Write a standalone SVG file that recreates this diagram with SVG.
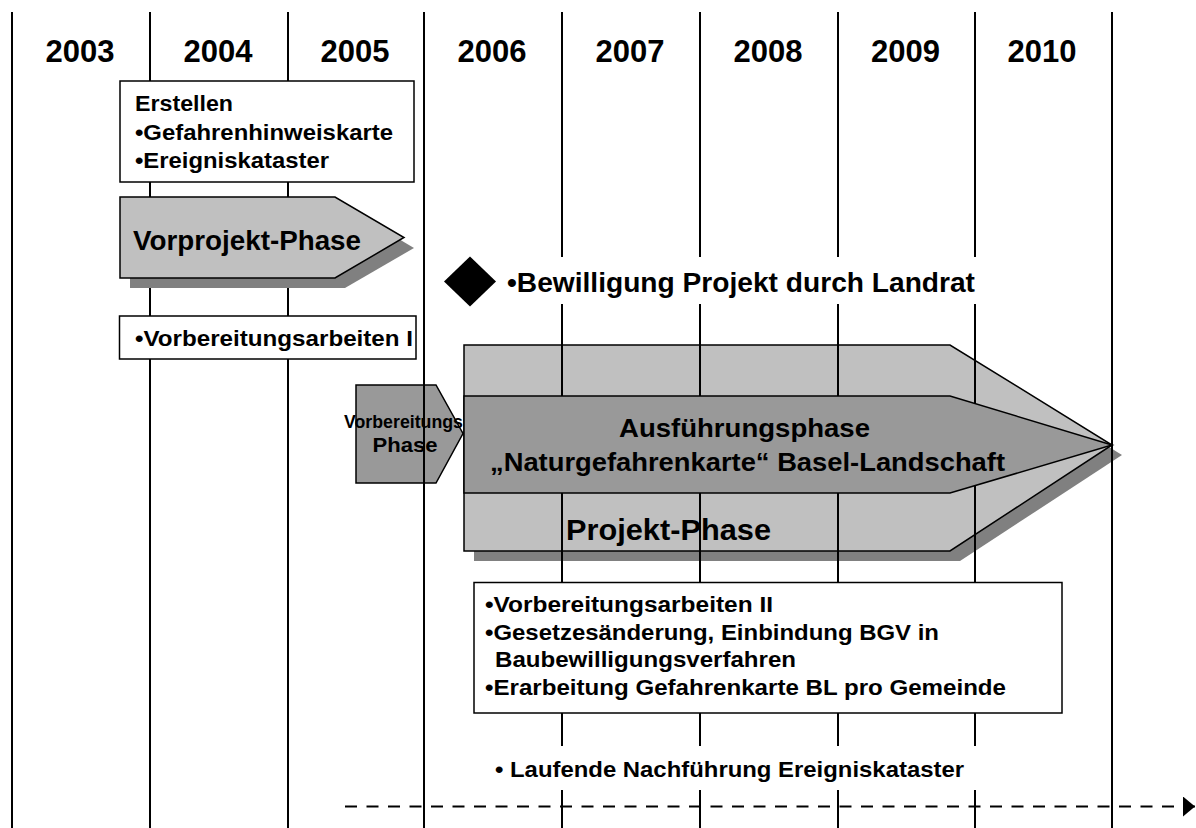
<svg xmlns="http://www.w3.org/2000/svg" width="1196" height="828" viewBox="0 0 1196 828">
<style>
text{font-family:"Liberation Sans",Arial,Helvetica,sans-serif;font-weight:bold;fill:#000}
.yr{font-size:31px;text-anchor:middle}
.t21{font-size:22.5px}
.mid{text-anchor:middle}
.grid line{stroke:#000;stroke-width:2}
.box{fill:#fff;stroke:#000;stroke-width:1.5}
.light{fill:#c0c0c0;stroke:#000;stroke-width:1.5;stroke-linejoin:miter}
.dark{fill:#999999;stroke:#000;stroke-width:1.5}
.shadow{fill:#808080}
.dash{stroke:#000;stroke-width:2;stroke-dasharray:12 9.5;fill:none}
</style>
<defs>
<marker id="ah" markerUnits="userSpaceOnUse" markerWidth="12" markerHeight="20" viewBox="0 0 12 20" refX="12" refY="10" orient="auto">
<path d="M0,0 L12,10 L0,20 z" fill="#000"/>
</marker>
</defs>
<rect width="1196" height="828" fill="#fff"/>

<g id="projekt-phase">
<polygon class="shadow" points="474,355 960,355 1122,455 960,561 474,561"/>
<polygon class="light" points="464,345 950,345 1112,445 950,551 464,551"/>
<text x="566" y="540" style="font-size:30px" textLength="205" lengthAdjust="spacingAndGlyphs">Projekt-Phase</text>
</g>

<g id="vorbereitungs-phase">
<polygon class="dark" points="356,385 436,385 463,433.5 436,483 356,483"/>
<text class="mid" x="403.5" y="427.5" style="font-size:17.5px" textLength="119" lengthAdjust="spacingAndGlyphs">Vorbereitungs</text>
<text class="mid" x="405" y="451.5" style="font-size:21px" textLength="65" lengthAdjust="spacingAndGlyphs">Phase</text>
</g>

<g id="grid" class="grid">
<line x1="12" y1="12" x2="12" y2="828"/>
<line x1="150" y1="12" x2="150" y2="828"/>
<line x1="288" y1="12" x2="288" y2="828"/>
<line x1="424" y1="12" x2="424" y2="828"/>
<line x1="562" y1="12" x2="562" y2="257"/>
<line x1="562" y1="304" x2="562" y2="746"/>
<line x1="562" y1="790" x2="562" y2="828"/>
<line x1="700" y1="12" x2="700" y2="257"/>
<line x1="700" y1="304" x2="700" y2="746"/>
<line x1="700" y1="790" x2="700" y2="828"/>
<line x1="838" y1="12" x2="838" y2="257"/>
<line x1="838" y1="304" x2="838" y2="746"/>
<line x1="838" y1="790" x2="838" y2="828"/>
<line x1="975" y1="12" x2="975" y2="257"/>
<line x1="975" y1="304" x2="975" y2="746"/>
<line x1="975" y1="790" x2="975" y2="828"/>
<line x1="1112" y1="12" x2="1112" y2="828"/>
</g>

<g id="ausfuehrungsphase">
<polygon class="dark" points="464,396 950,396 1112,445 950,493 464,493"/>
<text class="mid" x="744.5" y="436.5" style="font-size:26.5px" textLength="251" lengthAdjust="spacingAndGlyphs">Ausführungsphase</text>
<text class="mid" x="747.5" y="470.5" style="font-size:26.5px" textLength="515" lengthAdjust="spacingAndGlyphs">„Naturgefahrenkarte“ Basel-Landschaft</text>
</g>

<g id="years">
<text class="yr" x="80" y="62">2003</text>
<text class="yr" x="218" y="62">2004</text>
<text class="yr" x="355" y="62">2005</text>
<text class="yr" x="492" y="62">2006</text>
<text class="yr" x="630" y="62">2007</text>
<text class="yr" x="768" y="62">2008</text>
<text class="yr" x="905.5" y="62">2009</text>
<text class="yr" x="1042" y="62">2010</text>
</g>

<g id="erstellen">
<rect class="box" x="120" y="81" width="294" height="101"/>
<text class="t21" x="135" y="111" textLength="98" lengthAdjust="spacingAndGlyphs">Erstellen</text>
<text class="t21" x="135" y="139.5" textLength="258" lengthAdjust="spacingAndGlyphs">•Gefahrenhinweiskarte</text>
<text class="t21" x="135" y="168" textLength="194" lengthAdjust="spacingAndGlyphs">•Ereigniskataster</text>
</g>

<g id="vorprojekt-phase">
<polygon class="shadow" points="130,207 345,207 414,248 345,288 130,288"/>
<polygon class="light" points="120,197 335,197 404,237.5 335,278 120,278"/>
<text x="133" y="250" style="font-size:27px" textLength="228" lengthAdjust="spacingAndGlyphs">Vorprojekt-Phase</text>
</g>

<g id="bewilligung">
<polygon fill="#000" points="444,281.5 470,256.5 496,281.5 470,306.5"/>
<text x="507" y="292" style="font-size:27px" textLength="468" lengthAdjust="spacingAndGlyphs">•Bewilligung Projekt durch Landrat</text>
</g>

<g id="vorbereitungsarbeiten-1">
<rect class="box" x="119.5" y="316" width="296.5" height="43"/>
<text class="t21" x="135" y="346" textLength="278" lengthAdjust="spacingAndGlyphs">•Vorbereitungsarbeiten I</text>
</g>

<g id="vorbereitungsarbeiten-2">
<rect class="box" x="474" y="582.5" width="588" height="130.5"/>
<text class="t21" x="485" y="612" textLength="288" lengthAdjust="spacingAndGlyphs">•Vorbereitungsarbeiten II</text>
<text class="t21" x="485" y="639.5" textLength="454" lengthAdjust="spacingAndGlyphs">•Gesetzesänderung, Einbindung BGV in</text>
<text class="t21" x="495" y="667" textLength="301" lengthAdjust="spacingAndGlyphs">Baubewilligungsverfahren</text>
<text class="t21" x="485" y="694.5" textLength="521" lengthAdjust="spacingAndGlyphs">•Erarbeitung Gefahrenkarte BL pro Gemeinde</text>
</g>

<g id="laufende">
<text class="t21" x="495" y="777" textLength="469" lengthAdjust="spacingAndGlyphs">• Laufende Nachführung Ereigniskataster</text>
</g>

<g id="connectors">
<line class="dash" x1="345" y1="806.5" x2="1195" y2="806.5" marker-end="url(#ah)"/>
</g>
</svg>
